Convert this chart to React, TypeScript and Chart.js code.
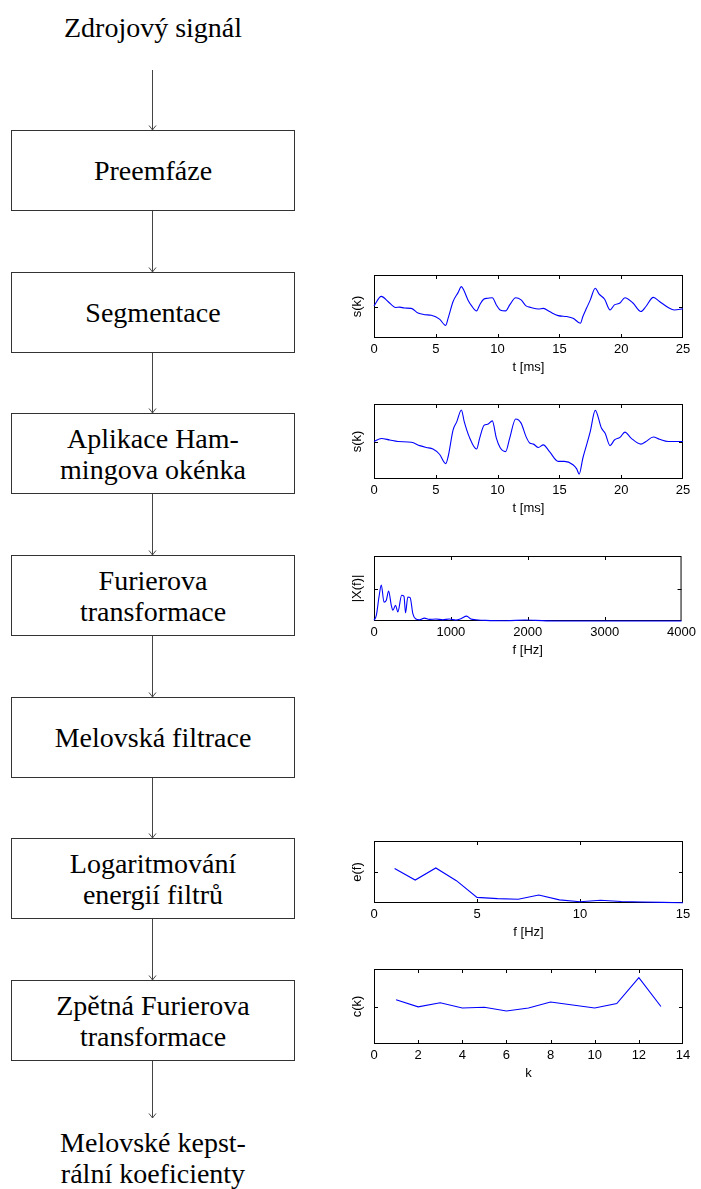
import React, { useEffect, useRef } from "react";
import { Chart, registerables } from "chart.js";

Chart.register(...registerables);

// ---------- Flowchart text ----------
const sourceLabel = "Zdrojový signál";
const stepLabels: string[][] = [
  ["Preemfáze"],
  ["Segmentace"],
  ["Aplikace Ham-", "mingova okénka"],
  ["Furierova", "transformace"],
  ["Melovská filtrace"],
  ["Logaritmování", "energií filtrů"],
  ["Zpětná Furierova", "transformace"],
];
const resultLabel = ["Melovské kepst-", "rální koeficienty"];

// ---------- Chart 1: segment s(k) ----------
const segT = [0, 0.59, 1.13, 1.75, 2.08, 2.48, 3.02, 3.56, 4.1, 4.64, 5.3, 5.8, 6.0, 6.4, 6.8, 7.07, 7.25, 7.6, 7.9, 8.3, 8.55, 8.87, 9.2, 9.57, 9.9, 10.2, 10.65, 10.98, 11.46, 11.9, 12.3, 12.7, 13.3, 13.7, 14.2, 14.9, 15.6, 16.1, 16.7, 16.9, 17.2, 17.5, 17.9, 18.2, 18.66, 19.1, 19.45, 19.9, 20.3, 20.95, 21.6, 22.0, 22.6, 23.1, 23.8, 24.3, 25];
const segS = [0.02, 0.32, 0.16, -0.03, -0.02, -0.05, -0.06, -0.21, -0.26, -0.28, -0.4, -0.6, -0.37, 0.16, 0.44, 0.63, 0.53, 0.21, 0.02, -0.14, 0.05, 0.23, 0.26, 0.28, 0.05, -0.11, -0.14, 0.05, 0.28, 0.21, 0.02, -0.03, -0.08, -0.06, -0.16, -0.29, -0.32, -0.37, -0.53, -0.32, -0.05, 0.21, 0.58, 0.4, 0.23, -0.11, 0.05, 0.11, 0.28, 0.11, -0.16, 0.0, 0.29, 0.16, -0.03, -0.11, -0.07];

// ---------- Chart 2: Hamming windowed s(k) ----------
const hamT = [0, 0.59, 1.27, 1.94, 3.02, 3.7, 4.23, 4.77, 5.3, 5.8, 6.0, 6.4, 6.7, 7.07, 7.3, 7.7, 8.3, 8.55, 8.9, 9.2, 9.57, 9.9, 10.2, 10.65, 10.98, 11.46, 11.9, 12.3, 12.6, 12.9, 13.3, 13.7, 14.2, 14.9, 15.4, 16.1, 16.4, 16.6, 16.9, 17.2, 17.5, 17.9, 18.4, 18.7, 19.1, 19.45, 19.9, 20.3, 20.8, 21.6, 22.0, 22.6, 23.1, 23.8, 25];
const hamS = [0, 0.08, 0.04, 0, -0.02, -0.11, -0.16, -0.2, -0.34, -0.59, -0.4, 0.31, 0.53, 0.84, 0.53, 0.13, -0.2, 0.09, 0.43, 0.46, 0.55, 0.09, -0.16, -0.27, 0.09, 0.6, 0.49, 0.13, -0.04, -0.07, -0.16, -0.09, -0.27, -0.53, -0.53, -0.62, -0.73, -0.87, -0.44, -0.09, 0.27, 0.83, 0.36, 0.22, -0.11, 0.04, 0.11, 0.25, 0.09, -0.07, 0, 0.12, 0.06, 0, 0];

// ---------- Chart 3: spectrum |X(f)| ----------
const specF = [0, 30, 65, 95, 130, 160, 190, 225, 245, 280, 310, 360, 390, 410, 440, 470, 505, 540, 590, 655, 720, 805, 895, 980, 1065, 1130, 1205, 1260, 1325, 1455, 1715, 1970, 2100, 2360, 4000];
const specX = [0.02, 0.17, 0.74, 1.11, 0.58, 0.64, 0.92, 0.48, 0.33, 0.48, 0.28, 0.79, 0.76, 0.25, 0.74, 0.72, 0.23, 0.07, 0.04, 0.09, 0.05, 0.06, 0.04, 0.06, 0.03, 0.07, 0.15, 0.06, 0.04, 0.02, 0.01, 0.03, 0.02, 0, 0];

// ---------- Chart 4: filter energies e(f) ----------
const energyF = [1, 2, 3, 4, 5, 6, 7, 8, 9, 10, 11, 12, 13, 14, 15];
const energyE = [1.11, 0.74, 1.13, 0.72, 0.18, 0.14, 0.12, 0.26, 0.1, 0.04, 0.09, 0.05, 0.03, 0.02, 0.01];

// ---------- Chart 5: cepstrum c(k) ----------
const cepK = [1, 2, 3, 4, 5, 6, 7, 8, 9, 10, 11, 12, 13];
const cepC = [0.18, -0.01, 0.1, -0.04, -0.02, -0.12, -0.04, 0.12, 0.04, -0.04, 0.08, 0.77, 0.0];

// ---------- layout ----------
const BOX_LEFT = 11;
const BOX_W = 284;
const BOX_H = 81;
const boxTops = [130, 272, 413, 555, 697, 838, 980];
const CX = 152.5;
const serif = '"Liberation Serif", "Times New Roman", serif';
const sans = '"Liberation Sans", Arial, Helvetica, sans-serif';

const framePlugin = {
  id: "frame",
  beforeDatasetsDraw(chart: any, _args: any, opts: any) {
    const { ctx, chartArea: a, scales } = chart;
    ctx.save();
    ctx.strokeStyle = "#000";
    ctx.lineWidth = 1;
    ctx.strokeRect(a.left + 0.5, a.top + 0.5, a.right - a.left - 1, a.bottom - a.top - 1);
    const tl = 4;
    ctx.beginPath();
    for (const t of scales.x.ticks) {
      const px = Math.round(scales.x.getPixelForValue(t.value)) + 0.5;
      if (px < a.left + 2 || px > a.right - 2) continue;
      ctx.moveTo(px, a.bottom);
      ctx.lineTo(px, a.bottom - tl);
      ctx.moveTo(px, a.top);
      ctx.lineTo(px, a.top + tl);
    }
    for (const v of opts.yTicks || []) {
      const py = Math.round(scales.y.getPixelForValue(v)) + 0.5;
      ctx.moveTo(a.left, py);
      ctx.lineTo(a.left + tl, py);
      ctx.moveTo(a.right, py);
      ctx.lineTo(a.right - tl, py);
    }
    ctx.stroke();
    ctx.restore();
  },
};

type MiniProps = {
  plotTop: number;
  plotH: number;
  xs: number[];
  ys: number[];
  xMin: number;
  xMax: number;
  xStep: number;
  yMin: number;
  yMax: number;
  yMid: number;
  xTitle: string;
  yTitle: string;
  tension: number;
};

function MiniChart(p: MiniProps) {
  const ref = useRef<HTMLCanvasElement>(null);
  const PAD_TOP = 6;
  const X_AXIS_H = 40;
  const W = 360;
  const H = p.plotH + PAD_TOP + X_AXIS_H;
  useEffect(() => {
    if (!ref.current) return;
    const chart = new Chart(ref.current, {
      type: "line",
      data: {
        datasets: [
          {
            data: p.xs.map((x, i) => ({ x, y: p.ys[i] })),
            borderColor: "#0000ff",
            borderWidth: 1.1,
            pointRadius: 0,
            fill: false,
            tension: p.tension,
            cubicInterpolationMode: p.tension > 0 ? "monotone" : "default",
            clip: false,
          } as any,
        ],
      },
      options: {
        animation: false,
        responsive: false,
        maintainAspectRatio: false,
        devicePixelRatio: 1,
        events: [],
        layout: { padding: { top: PAD_TOP, right: 17, left: 0, bottom: 0 } },
        plugins: {
          legend: { display: false },
          tooltip: { enabled: false },
          frame: { yTicks: [p.yMid] },
        } as any,
        scales: {
          x: {
            type: "linear",
            min: p.xMin,
            max: p.xMax,
            ticks: {
              stepSize: p.xStep,
              color: "#000",
              font: { family: sans, size: 13 },
              padding: 4,
              maxRotation: 0,
              autoSkip: false,
              callback: (v: any) => String(v),
            },
            grid: { display: false, drawTicks: false },
            border: { display: false },
            title: {
              display: true,
              text: p.xTitle,
              color: "#000",
              font: { family: sans, size: 13 },
              padding: { top: 0, bottom: 3 },
            },
            afterFit: (s: any) => {
              s.height = X_AXIS_H;
            },
          },
          y: {
            type: "linear",
            min: p.yMin,
            max: p.yMax,
            ticks: { display: false },
            grid: { display: false, drawTicks: false },
            border: { display: false },
            title: {
              display: true,
              text: p.yTitle,
              color: "#000",
              font: { family: sans, size: 13 },
              padding: { top: 10, bottom: 0 },
            },
            afterFit: (s: any) => {
              s.width = 34;
            },
          },
        },
      },
      plugins: [framePlugin as any],
    });
    return () => chart.destroy();
  }, []);
  return (
    <canvas
      ref={ref}
      width={W}
      height={H}
      style={{ position: "absolute", left: 340, top: p.plotTop - PAD_TOP, width: W, height: H }}
    />
  );
}

function Arrow({ y1, y2 }: { y1: number; y2: number }) {
  return (
    <g stroke="#444" fill="none" strokeWidth={1}>
      <line x1={CX} y1={y1} x2={CX} y2={y2} />
      <path d={`M${CX - 3.5},${y2 - 4.5} Q${CX - 1},${y2 - 1.5} ${CX},${y2} Q${CX + 1},${y2 - 1.5} ${CX + 3.5},${y2 - 4.5}`} />
    </g>
  );
}

export default function App() {
  const arrows: [number, number][] = [[70, 130]];
  for (let i = 0; i < boxTops.length; i++) {
    const from = boxTops[i] + BOX_H - 1;
    const to = i + 1 < boxTops.length ? boxTops[i + 1] : 1118;
    arrows.push([from, to]);
  }
  const textStyle: React.CSSProperties = {
    fontFamily: serif,
    fontSize: 28,
    lineHeight: "31px",
    color: "#000",
    textAlign: "center",
    whiteSpace: "nowrap",
  };
  return (
    <div style={{ position: "absolute", left: 0, top: 0, width: 701, height: 1189, background: "#fff", overflow: "hidden" }}>
      <svg width={701} height={1189} style={{ position: "absolute", left: 0, top: 0 }}>
        {arrows.map(([a, b], i) => (
          <Arrow key={i} y1={a} y2={b} />
        ))}
      </svg>
      <div style={{ ...textStyle, position: "absolute", left: BOX_LEFT, width: BOX_W, top: 12 }}>{sourceLabel}</div>
      {stepLabels.map((lines, i) => (
        <div
          key={i}
          style={{
            ...textStyle,
            position: "absolute",
            left: BOX_LEFT,
            top: boxTops[i],
            width: BOX_W,
            height: BOX_H,
            boxSizing: "border-box",
            border: "1px solid #333",
            display: "flex",
            flexDirection: "column",
            justifyContent: "center",
            alignItems: "center",
            background: "#fff",
          }}
        >
          {lines.map((l, j) => (
            <div key={j}>{l}</div>
          ))}
        </div>
      ))}
      <div style={{ ...textStyle, position: "absolute", left: BOX_LEFT, width: BOX_W, top: 1127 }}>
        {resultLabel.map((l, j) => (
          <div key={j}>{l}</div>
        ))}
      </div>

      <MiniChart plotTop={275} plotH={63} xs={segT} ys={segS} xMin={0} xMax={25} xStep={5} yMin={-1} yMax={1} yMid={0} xTitle="t [ms]" yTitle="s(k)" tension={0.4} />
      <MiniChart plotTop={404} plotH={75} xs={hamT} ys={hamS} xMin={0} xMax={25} xStep={5} yMin={-1} yMax={1} yMid={0} xTitle="t [ms]" yTitle="s(k)" tension={0.4} />
      <MiniChart plotTop={556} plotH={65} xs={specF} ys={specX} xMin={0} xMax={4000} xStep={1000} yMin={0} yMax={2} yMid={1} xTitle="f [Hz]" yTitle="|X(f)|" tension={0.3} />
      <MiniChart plotTop={841} plotH={62} xs={energyF} ys={energyE} xMin={0} xMax={15} xStep={5} yMin={0} yMax={2} yMid={1} xTitle="f [Hz]" yTitle="e(f)" tension={0} />
      <MiniChart plotTop={969} plotH={75} xs={cepK} ys={cepC} xMin={0} xMax={14} xStep={2} yMin={-1} yMax={1} yMid={0} xTitle="k" yTitle="c(k)" tension={0} />
    </div>
  );
}
